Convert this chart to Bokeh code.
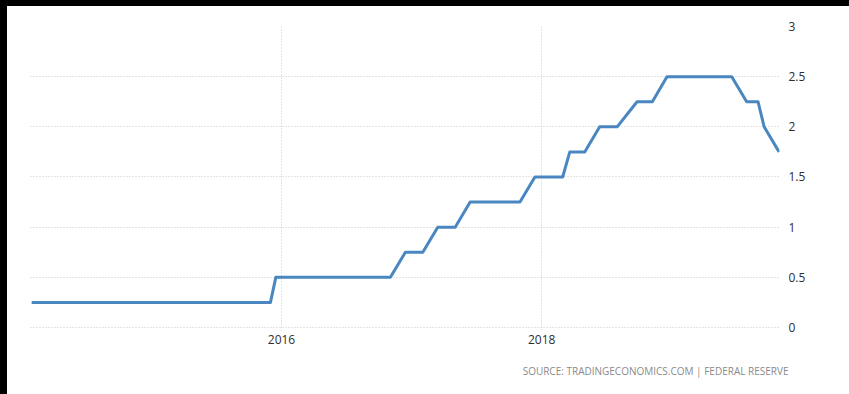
import pandas as pd
from bokeh.plotting import figure
from bokeh.models import (LinearAxis, DatetimeAxis, FixedTicker, DatetimeTickFormatter,
                          Range1d, Title, Spacer, Grid)
from bokeh.layouts import column, row
from bokeh.embed import file_html
from bokeh.resources import INLINE

# Fed funds rate (upper bound), observation dates and values
dates = ["2014-01-29", "2015-12-01", "2015-12-16", "2016-11-02", "2016-12-14",
         "2017-02-01", "2017-03-15", "2017-05-03", "2017-06-14", "2017-11-01",
         "2017-12-13", "2018-03-01", "2018-03-21", "2018-05-02", "2018-06-13",
         "2018-08-01", "2018-09-26", "2018-11-08", "2018-12-19", "2019-06-19",
         "2019-07-31", "2019-09-01", "2019-09-18", "2019-10-30"]
rates = [0.25, 0.25, 0.5, 0.5, 0.75,
         0.75, 1.0, 1.0, 1.25, 1.25,
         1.5, 1.5, 1.75, 1.75, 2.0,
         2.0, 2.25, 2.25, 2.5, 2.5,
         2.25, 2.25, 2.0, 1.75]
x_ticks = ["2016-01-01", "2018-01-01"]
y_ticks = [0, 0.5, 1, 1.5, 2, 2.5, 3]
source_note = "SOURCE: TRADINGECONOMICS.COM | FEDERAL RESERVE"

xs = pd.to_datetime(dates)
ms_2016 = pd.Timestamp("2016-01-01").value / 1e6
ms_per_year = 365.25 * 24 * 3600 * 1000.0
# frame spans page x 30..779, with 2016 at x=281 and 130 px per year
x_start = ms_2016 - (281 - 30) / 130.0 * ms_per_year
x_end = ms_2016 + (779 - 281) / 130.0 * ms_per_year

W, H = 842, 388
p = figure(width=W, height=H, x_axis_type="datetime",
           x_range=Range1d(x_start, x_end), y_range=Range1d(-0.03, 3.0),
           output_backend="svg", toolbar_location=None,
           y_axis_location=None, x_axis_location=None)
p.center = []
p.min_border_left = 30 - 7
p.min_border_right = 849 - 779
p.min_border_top = 26 - 6
p.min_border_bottom = H - (330 - 6)
p.outline_line_color = None
p.background_fill_color = "white"
p.border_fill_color = "white"

xa = DatetimeAxis(ticker=FixedTicker(ticks=[pd.Timestamp(t).value / 1e6 for t in x_ticks]),
                  formatter=DatetimeTickFormatter(years="%Y", months="%Y", days="%Y"))
xa.axis_line_color = None
xa.major_tick_line_color = None
xa.minor_tick_line_color = None
xa.major_label_standoff = -2
xa.major_label_text_font = "Open Sans"
xa.major_label_text_font_size = "12px"
xa.major_label_text_color = "#2e2e2e"
p.add_layout(xa, "below")

ya = LinearAxis(ticker=FixedTicker(ticks=y_ticks))
ya.axis_line_color = None
ya.major_tick_line_color = None
ya.minor_tick_line_color = None
ya.major_label_standoff = 3
ya.major_label_text_font = "Open Sans"
ya.major_label_text_font_size = "12px"
ya.major_label_text_color = "#2e2e2e"
p.add_layout(ya, "right")

p.add_layout(Grid(dimension=0, ticker=xa.ticker, grid_line_color="#c8c8c8",
                  grid_line_dash="1 2", grid_line_width=1))
p.add_layout(Grid(dimension=1, ticker=ya.ticker, grid_line_color="#c8c8c8",
                  grid_line_dash="1 2", grid_line_width=1))

p.line(xs, rates, line_color="#4a87c1", line_width=3, line_join="round")

t = Title(text=source_note, align="right", text_font="Open Sans",
          text_font_size="10px", text_color="#8a8a8a", text_font_style="normal",
          standoff=31, offset=-9)
p.add_layout(t, "below")

top_bar = Spacer(width=849, height=6, styles={"background-color": "black"})
left_bar = Spacer(width=7, height=H, styles={"background-color": "black"})
layout = column(top_bar, row(left_bar, p, spacing=0), spacing=0)

open("out.html", "w").write(file_html(layout, INLINE))
